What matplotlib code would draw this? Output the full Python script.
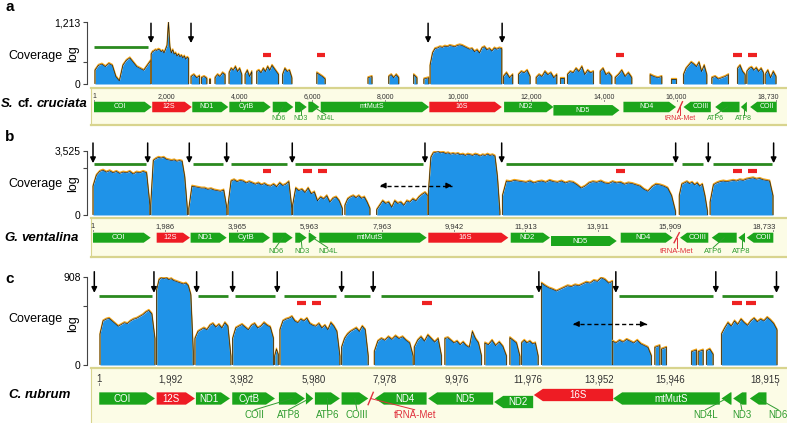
import numpy as np
import matplotlib.pyplot as plt
from matplotlib.patches import Polygon
from matplotlib import transforms

plt.rcParams['font.family'] = ['Liberation Sans', 'DejaVu Sans']

W, H = 787, 423

# ---------------- panel a : S. cf. cruciata ----------------
a_name = [("S.", "italic"), ("cf.", "normal"), ("cruciata", "italic")]
a_len = 18730
a_top = "1,213"
a_mid = 0.36
# coverage islands: (start bp, end bp, heights on the log axis, 1 = top tick)
a_cov = [
    (27, 1560, [0.22, 0.3, 0.32, 0.28, 0.33, 0.3, 0.12, 0.05, 0.3, 0.38, 0.42, 0.35, 0.28, 0.25, 0.22, 0.3, 0.38]),
    (1570, 2600, [0.48, 0.52, 0.53, 0.55, 0.54, 0.56, 0.55, 0.52, 0.54, 0.5, 0.56, 0.62, 1.0, 0.6, 0.5, 0.55,
                  0.48, 0.5, 0.45, 0.48, 0.44, 0.46, 0.42, 0.45, 0.4, 0.43, 0.41]),
    (2665, 2900, [0.12, 0.15, 0.1, 0.13]),
    (2950, 3100, [0.1, 0.12, 0.09]),
    (3150, 3200, [0.08, 0.08]),
    (3325, 3600, [0.1, 0.15, 0.12, 0.18, 0.15]),
    (3710, 4060, [0.18, 0.25, 0.22, 0.28, 0.2, 0.25, 0.15]),
    (4150, 4335, [0.15, 0.22, 0.12, 0.2]),
    (4470, 5070, [0.2, 0.22, 0.18, 0.25, 0.2, 0.28, 0.22, 0.3, 0.25, 0.2, 0.15]),
    (5180, 5435, [0.15, 0.25, 0.2, 0.22, 0.1]),
    (6120, 6350, [0.18, 0.15, 0.12, 0.08]),
    (7525, 7635, [0.1, 0.12]),
    (8095, 8370, [0.12, 0.15, 0.1, 0.15, 0.1]),
    (8780, 8870, [0.15, 0.1]),
    (9060, 9195, [0.08, 0.1]),
    (9230, 11200, [0.3, 0.5, 0.57, 0.58, 0.6, 0.59, 0.61, 0.6, 0.62, 0.61, 0.6, 0.62, 0.63, 0.62, 0.6, 0.58,
                   0.56, 0.57, 0.52, 0.55, 0.5, 0.58, 0.6, 0.55, 0.57, 0.53, 0.58, 0.56, 0.58, 0.57]),
    (11245, 11500, [0.12, 0.18, 0.1, 0.15]),
    (11656, 11977, [0.15, 0.2, 0.18, 0.22, 0.12]),
    (12142, 12710, [0.1, 0.15, 0.12, 0.2, 0.15, 0.18, 0.1, 0.15]),
    (12801, 12911, [0.1, 0.1]),
    (13002, 13717, [0.15, 0.2, 0.18, 0.25, 0.2, 0.28, 0.15, 0.22, 0.18, 0.2]),
    (13900, 14221, [0.2, 0.25, 0.15, 0.18, 0.12]),
    (14312, 14770, [0.1, 0.15, 0.22, 0.12, 0.18, 0.1]),
    (15273, 15594, [0.15, 0.12, 0.1, 0.12]),
    (15842, 15988, [0.08, 0.08]),
    (16189, 16830, [0.15, 0.25, 0.3, 0.35, 0.32, 0.28, 0.35, 0.2, 0.3, 0.15]),
    (16968, 17425, [0.1, 0.12, 0.08, 0.1, 0.12, 0.15]),
    (17673, 17883, [0.25, 0.3, 0.2, 0.15]),
    (17929, 18386, [0.2, 0.25, 0.27, 0.22, 0.26, 0.2, 0.25, 0.18]),
    (18432, 18730, [0.15, 0.22, 0.1, 0.2, 0.12]),
]
a_arrows = [1566, 2665, 9176, 11209]
a_green = [(1, 1490)]
a_red = [(4643, 4863), (6126, 6346), (14340, 14560), (17555, 17800), (17967, 18214)]
a_span = None
a_ticks = [1, 2000, 4000, 6000, 8000, 10000, 12000, 14000, 16000, 18730]
a_genes = [
    ("COI", 1, 1585, 1, "cds"), ("12S", 1600, 2685, 1, "rrna"), ("ND1", 2700, 3690, 1, "cds"),
    ("CytB", 3718, 4854, 1, "cds"), ("ND6", 4909, 5475, 1, "cds"), ("ND3", 5522, 5843, 1, "cds"),
    ("ND4L", 5887, 6190, 1, "cds"), ("mtMutS", 6228, 9203, 1, "cds"), ("16S", 9210, 11200, 1, "rrna"),
    ("ND2", 11263, 12617, 1, "cds"), ("ND5", 12617, 14430, 1, "cds"), ("ND4", 14540, 15985, 1, "cds"),
    ("tRNA-Met", 16070, 16120, 1, "trna"), ("COIII", 16190, 16940, -1, "cds"),
    ("ATP6", 17060, 17728, -1, "cds"), ("ATP8", 17765, 17930, -1, "cds"), ("COII", 18020, 18750, -1, "cds"),
]
a_lower = ["ND5"]
a_upper = []
a_out = {"ND6": -5, "ND3": 0, "ND4L": 12, "tRNA-Met": 0, "ATP6": -12, "ATP8": 0}

# ---------------- panel b : G. ventalina ----------------
b_name = [("G.", "italic"), ("ventalina", "italic")]
b_len = 18733
b_top = "3,525"
b_mid = 0.73
b_cov = [
    (1, 1570, [0.45, 0.62, 0.68, 0.7, 0.67, 0.69, 0.66, 0.68, 0.65, 0.67, 0.66, 0.68, 0.64, 0.67, 0.66, 0.68, 0.66, 0.15]),
    (1590, 2600, [0.15, 0.85, 0.88, 0.9, 0.89, 0.9, 0.87, 0.86, 0.85, 0.86, 0.84, 0.85, 0.84, 0.6, 0.1]),
    (2640, 3690, [0.1, 0.45, 0.44, 0.43, 0.42, 0.42, 0.4, 0.41, 0.39, 0.38, 0.37, 0.39, 0.1]),
    (3720, 5480, [0.15, 0.53, 0.55, 0.52, 0.54, 0.53, 0.5, 0.52, 0.5, 0.48, 0.5, 0.47, 0.49, 0.46, 0.45, 0.48,
                  0.44, 0.5, 0.46, 0.48, 0.52, 0.1]),
    (5500, 6870, [0.15, 0.42, 0.38, 0.4, 0.35, 0.42, 0.33, 0.36, 0.22, 0.28, 0.25, 0.3, 0.2, 0.26, 0.28, 0.22, 0.1]),
    (6940, 7630, [0.15, 0.25, 0.28, 0.3, 0.27, 0.3, 0.26, 0.28, 0.2, 0.1]),
    (7815, 9230, [0.08, 0.15, 0.22, 0.18, 0.2, 0.12, 0.22, 0.18, 0.2, 0.15, 0.22, 0.2, 0.25, 0.22, 0.28, 0.32, 0.35, 0.3]),
    (9240, 11210, [0.35, 0.9, 0.97, 0.98, 0.99, 0.97, 0.98, 0.96, 0.97, 0.95, 0.96, 0.95, 0.96, 0.94, 0.95, 0.93,
                   0.95, 0.94, 0.93, 0.95, 0.94, 0.92, 0.94, 0.93, 0.95, 0.93, 0.94, 0.92, 0.6, 0.05]),
    (11280, 16050, [0.3, 0.53, 0.52, 0.54, 0.53, 0.52, 0.51, 0.53, 0.5, 0.52, 0.53, 0.51, 0.54, 0.52, 0.51, 0.53,
                    0.5, 0.52, 0.51, 0.47, 0.42, 0.45, 0.5, 0.52, 0.51, 0.53, 0.5, 0.49, 0.52, 0.5, 0.51, 0.48,
                    0.5, 0.49, 0.47, 0.45, 0.4, 0.37, 0.44, 0.48, 0.47, 0.45, 0.42, 0.3, 0.05]),
    (16150, 16930, [0.3, 0.48, 0.5, 0.52, 0.49, 0.51, 0.47, 0.5, 0.45, 0.48, 0.3, 0.05]),
    (17000, 18733, [0.2, 0.47, 0.5, 0.52, 0.53, 0.52, 0.53, 0.54, 0.53, 0.55, 0.54, 0.56, 0.57, 0.58, 0.56, 0.57,
                    0.55, 0.54, 0.53, 0.3]),
]
b_arrows = [1, 1507, 2653, 3683, 5490, 9146, 11259, 16052, 16950, 18750]
b_green = [(20, 1470), (2755, 3580), (3800, 5345), (5565, 9090), (11380, 15980), (16225, 16800), (17080, 18700)]
b_red = [(4675, 4895), (5795, 6025), (6190, 6440), (14410, 14655), (17640, 17890), (18050, 18300)]
b_span = (7906, 9890)
b_ticks = [1, 1986, 3965, 5963, 7963, 9942, 11913, 13911, 15909, 18733]
b_genes = [
    ("COI", 1, 1590, 1, "cds"), ("12S", 1755, 2672, 1, "rrna"), ("ND1", 2690, 3683, 1, "cds"),
    ("CytB", 3747, 4876, 1, "cds"), ("ND6", 4950, 5500, 1, "cds"), ("ND3", 5573, 5887, 1, "cds"),
    ("ND4L", 5942, 6163, 1, "cds"), ("mtMutS", 6235, 9194, 1, "cds"), ("16S", 9238, 11442, 1, "rrna"),
    ("ND2", 11508, 12590, 1, "cds"), ("ND5", 12618, 14428, 1, "cds"), ("ND4", 14538, 15970, 1, "cds"),
    ("tRNA-Met", 16050, 16110, 1, "trna"), ("COIII", 16172, 16951, -1, "cds"),
    ("ATP6", 17045, 17733, -1, "cds"), ("ATP8", 17778, 17962, -1, "cds"), ("COII", 18009, 18742, -1, "cds"),
]
b_lower = ["ND5"]
b_upper = []
b_out = {"ND6": -7, "ND3": 1, "ND4L": 15, "tRNA-Met": 0, "ATP6": -11, "ATP8": 0}

# ---------------- panel c : C. rubrum ----------------
c_name = [("C.", "italic"), ("rubrum", "italic")]
c_len = 18915
c_top = "908"
c_mid = 0.67
c_cov = [
    (28, 1562, [0.35, 0.5, 0.52, 0.53, 0.5, 0.47, 0.44, 0.46, 0.48, 0.47, 0.5, 0.52, 0.53, 0.55, 0.57, 0.6, 0.62, 0.58, 0.3]),
    (1608, 2631, [0.85, 0.97, 0.99, 0.98, 0.99, 0.97, 0.98, 0.96, 0.95, 0.94, 0.93, 0.92, 0.93, 0.9, 0.8, 0.15]),
    (2677, 3681, [0.3, 0.38, 0.4, 0.42, 0.4, 0.45, 0.47, 0.43, 0.46, 0.42, 0.48, 0.44, 0.1]),
    (3728, 4870, [0.3, 0.42, 0.44, 0.46, 0.43, 0.4, 0.45, 0.47, 0.42, 0.44, 0.48, 0.45, 0.43, 0.3]),
    (4900, 5002, [0.1, 0.18, 0.12]),
    (5048, 6722, [0.4, 0.5, 0.52, 0.53, 0.55, 0.5, 0.48, 0.52, 0.5, 0.53, 0.47, 0.45, 0.44, 0.47, 0.42, 0.45,
                  0.4, 0.48, 0.44, 0.38, 0.1]),
    (6768, 7512, [0.2, 0.3, 0.35, 0.38, 0.4, 0.42, 0.38, 0.44, 0.4, 0.1]),
    (7680, 8767, [0.15, 0.27, 0.3, 0.28, 0.32, 0.29, 0.33, 0.3, 0.32, 0.28, 0.25, 0.1]),
    (8795, 9557, [0.2, 0.28, 0.32, 0.27, 0.34, 0.3, 0.26, 0.3, 0.1]),
    (9650, 10673, [0.3, 0.31, 0.28, 0.25, 0.27, 0.23, 0.26, 0.22, 0.2, 0.38, 0.3, 0.25, 0.1]),
    (10765, 11370, [0.25, 0.23, 0.28, 0.22, 0.26, 0.21, 0.1]),
    (11463, 11742, [0.31, 0.28, 0.25, 0.1]),
    (11788, 12253, [0.25, 0.28, 0.25, 0.27, 0.24, 0.25, 0.1]),
    (12346, 14326, [0.93, 0.9, 0.875, 0.86, 0.84, 0.86, 0.88, 0.9, 0.89, 0.91, 0.9, 0.92, 0.94, 0.93, 0.96,
                    0.95, 0.99, 0.97, 0.93, 0.95]),
    (14326, 15414, [0.27, 0.25, 0.28, 0.26, 0.29, 0.27, 0.25, 0.28, 0.24, 0.22, 0.2, 0.1]),
    (15507, 15647, [0.2, 0.22]),
    (15693, 15832, [0.18, 0.2]),
    (16530, 16669, [0.15, 0.17]),
    (16716, 16855, [0.15, 0.17]),
    (16948, 17134, [0.16, 0.18, 0.12]),
    (17366, 18915, [0.35, 0.42, 0.48, 0.44, 0.5, 0.46, 0.52, 0.48, 0.45, 0.5, 0.53, 0.49, 0.52, 0.5, 0.54,
                    0.51, 0.47, 0.4]),
]
c_arrows = [-130, 1534, 2725, 3729, 4973, 6769, 7650, 12272, 14419, 17208, 18901]
c_green = [(1, 1470), (2752, 3606), (3793, 4909), (5168, 6602), (6842, 7558), (7857, 12095),
           (14512, 17133), (17367, 18806)]
c_red = [(5531, 5773), (5932, 6192), (9018, 9279), (17647, 17926), (18064, 18323)]
c_span = (13228, 15276)
c_ticks = [1, 1992, 3982, 5980, 7978, 9976, 11976, 13952, 15946, 18915]
c_genes = [
    ("COI", 8, 1562, 1, "cds"), ("12S", 1609, 2677, 1, "rrna"), ("ND1", 2705, 3654, 1, "cds"),
    ("CytB", 3718, 4909, 1, "cds"), ("COII", 5020, 5745, 1, "cds"), ("ATP8", 5773, 5977, 1, "cds"),
    ("ATP6", 6024, 6721, 1, "cds"), ("COIII", 6768, 7512, 1, "cds"), ("tRNA-Met", 7550, 7610, 1, "trna"),
    ("ND4", 7698, 9140, -1, "cds"), ("ND5", 9184, 10997, -1, "cds"), ("ND2", 11025, 12113, -1, "cds"),
    ("16S", 12132, 14344, -1, "rrna"), ("mtMutS", 14344, 17320, -1, "cds"),
    ("ND4L", 17367, 17646, -1, "cds"), ("ND3", 17692, 18064, -1, "cds"), ("ND6", 18157, 18622, -1, "cds"),
]
c_lower = ["ND2"]
c_upper = ["16S"]
c_out = {"COII": -37, "ATP8": -21, "ATP6": 0, "COIII": 2, "tRNA-Met": 44, "ND4L": -21, "ND3": 2, "ND6": 20}

# ---------------- layout (pixels) ----------------
lay_a = dict(letter="a", letter_y=7, px0=94, px1=776, cov_top=22, cov_bot=84, box_top=88, box_bot=125,
             arrow=(0.98, 0.66), green=0.6, red=0.47, span_y=None, tick_y=8.7, gene_y=19, gene_h=10.5,
             row=3.3, sub_y=30.5, head=7, fs_tick=5, fs_gene=5, fs_sub=5, name_x=1, name_y=104,
             cov_y=56, log_y=54)
lay_b = dict(letter="b", letter_y=137, px0=93, px1=773, cov_top=151, cov_bot=215, box_top=218, box_bot=257,
             arrow=(1.125, 0.81), green=0.8, red=0.69, span_y=0.46, tick_y=8.7, gene_y=19.7, gene_h=10,
             row=3.3, sub_y=33.7, head=7, fs_tick=5.5, fs_gene=5.5, fs_sub=5.5, name_x=4, name_y=238,
             cov_y=184, log_y=183.5)
lay_c = dict(letter="c", letter_y=279, px0=99, px1=777, cov_top=277, cov_bot=365, box_top=368, box_bot=426,
             arrow=(1.06, 0.82), green=0.78, red=0.70, span_y=0.466, tick_y=11.3, gene_y=30.5, gene_h=12.3,
             row=3.5, sub_y=47, head=9, fs_tick=7, fs_gene=7, fs_sub=7, name_x=8, name_y=395,
             cov_y=319, log_y=323.5)

BLUE = '#1f93e8'
ORANGE = '#f2a516'
GENE_COL = {"cds": '#1ba51b', "rrna": '#ee1c24', "trna": '#e0303c'}
LINE_GREEN = '#2a8a1e'
MARK_RED = '#ee2222'
BOX = '#fcfce6'
BOX_EDGE = '#d8d48e'
SUB_GREEN = '#2f9c2f'

fig = plt.figure(figsize=(W / 100, H / 100), dpi=100)


def ftext(x, y, s, **kw):
    return fig.text(x / W, 1 - y / H, s, **kw)


def draw_panel(name, length, top_lbl, mid, cov, arrows, green, red, span, ticks, genes,
               lower, upper, out, L):
    scale = (L['px1'] - L['px0']) / (length - 1)
    xl = (1 - (L['px0'] - 91) / scale, 1 + (787 - L['px0']) / scale)

    # coverage track
    ax = fig.add_axes([91 / W, 1 - L['cov_bot'] / H, 696 / W, (L['cov_bot'] - L['cov_top']) / H])
    ax.set_xlim(xl)
    ax.set_ylim(0, 1)
    ax.patch.set_alpha(0)
    for s in ('top', 'right', 'bottom'):
        ax.spines[s].set_visible(False)
    ax.spines['left'].set_position(('outward', 3))
    ax.spines['left'].set_color('#444')
    ax.spines['left'].set_linewidth(0.8)
    ax.set_xticks([])
    ax.set_yticks([0, mid, 1])
    ax.set_yticklabels(['0', '', top_lbl])
    ax.tick_params(axis='y', length=3, width=0.8, color='#444', labelsize=7.5, pad=1.5)

    up = transforms.offset_copy(ax.transData, fig=fig, y=0.7, units='points')
    for s, e, vals in cov:
        xs = np.concatenate([[s], np.linspace(s, e, len(vals)), [e]])
        ys = np.concatenate([[0], vals, [0]])
        ax.fill_between(xs, 0, ys, color=BLUE, lw=0)
        ax.plot(xs, ys, color=ORANGE, lw=0.9, transform=up)
        ax.plot(xs, ys, color='#1b1b1b', lw=0.5)

    for x in arrows:
        ax.annotate('', xy=(x, L['arrow'][1]), xytext=(x, L['arrow'][0]),
                    arrowprops=dict(arrowstyle='-|>', color='k', lw=1.1, mutation_scale=8,
                                    shrinkA=0, shrinkB=0), annotation_clip=False)
    ax.hlines([L['green']] * len(green), [g[0] for g in green], [g[1] for g in green],
              colors=LINE_GREEN, lw=2, clip_on=False)
    ax.hlines([L['red']] * len(red), [r[0] for r in red], [r[1] for r in red],
              colors=MARK_RED, lw=3, clip_on=False)
    if span is not None:
        y = L['span_y']
        ax.plot(span, [y, y], color='k', lw=1, dashes=(3, 2))
        for tip, d in ((span[0], 1), (span[1], -1)):
            ax.annotate('', xy=(tip, y), xytext=(tip + d * 5 / scale, y),
                        arrowprops=dict(arrowstyle='-|>', color='k', lw=1, mutation_scale=8,
                                        shrinkA=0, shrinkB=0))

    ftext(10, L['letter_y'], L['letter'], fontsize=11, weight='bold', ha='center', va='center')
    ftext(35, L['cov_y'], 'Coverage', fontsize=9, ha='center', va='center')
    ftext(73, L['log_y'], 'log', fontsize=9, rotation=90, ha='center', va='center')

    # gene map
    mx = fig.add_axes([91 / W, 1 - L['box_bot'] / H, 696 / W, (L['box_bot'] - L['box_top']) / H])
    mx.set_xlim(xl)
    mx.set_ylim(L['box_bot'] - L['box_top'], 0)
    mx.set_facecolor(BOX)
    mx.set_xticks([])
    mx.set_yticks([])
    for s in mx.spines.values():
        s.set_color(BOX_EDGE)
    mx.spines['top'].set_linewidth(1.6)
    mx.spines['bottom'].set_linewidth(1.6)
    mx.spines['left'].set_linewidth(0.8)
    mx.spines['right'].set_visible(False)

    for i, v in enumerate(ticks):
        if i == len(ticks) - 1:
            mx.text(v + 3 / scale, L['tick_y'], f'{v:,}', fontsize=L['fs_tick'], ha='right', va='center', color='#333')
        else:
            mx.text(v, L['tick_y'], f'{v:,}', fontsize=L['fs_tick'], ha='center', va='center', color='#333')
        ty = L['tick_y'] + L['fs_tick'] * 0.6
        mx.plot([v, v], [ty, ty + 1.5], color='#777', lw=0.6)

    h = L['gene_h']
    for gname, s, e, strand, kind in genes:
        yc = L['gene_y']
        if gname in lower:
            yc += L['row']
        if gname in upper:
            yc -= L['row']
        col = GENE_COL[kind]
        if kind == 'trna':
            d = 1.5 / scale
            mx.plot([s - d, e + d], [yc + h / 2, yc - h / 2], color=col, lw=1)
            cx = (s + e) / 2
        else:
            hl = min(L['head'] / scale, e - s)
            y0, y1 = yc - h / 2, yc + h / 2
            if strand > 0:
                pts = [(s, y0), (e - hl, y0), (e, yc), (e - hl, y1), (s, y1)]
                cx = (s + e - hl) / 2
            else:
                pts = [(e, y0), (s + hl, y0), (s, yc), (s + hl, y1), (e, y1)]
                cx = (s + hl + e) / 2
            mx.add_patch(Polygon(pts, closed=True, fc=col, ec='none'))
        if gname in out:
            lc = GENE_COL['trna'] if kind == 'trna' else SUB_GREEN
            gx = (s + e) / 2
            lx = gx + out[gname] / scale
            mx.plot([gx, lx], [yc, L['sub_y'] - L['fs_sub'] * 0.75], color=lc, lw=0.7)
            mx.text(lx, L['sub_y'], gname, fontsize=L['fs_sub'], ha='center', va='center', color=lc)
        else:
            mx.text(cx, yc, gname, fontsize=L['fs_gene'], ha='center', va='center', color='white')

    # species name, pieces chained left to right
    prev = ftext(L['name_x'], L['name_y'], name[0][0], fontsize=9.5, weight='bold',
                 style=name[0][1], ha='left', va='center')
    for word, st in name[1:]:
        prev = mx.annotate(word, xy=(1, 0), xycoords=prev, xytext=(2.8, 0), textcoords='offset points',
                           fontsize=9.5, weight='bold', style=st, ha='left', va='bottom',
                           annotation_clip=False)


draw_panel(a_name, a_len, a_top, a_mid, a_cov, a_arrows, a_green, a_red, a_span, a_ticks,
           a_genes, a_lower, a_upper, a_out, lay_a)
draw_panel(b_name, b_len, b_top, b_mid, b_cov, b_arrows, b_green, b_red, b_span, b_ticks,
           b_genes, b_lower, b_upper, b_out, lay_b)
draw_panel(c_name, c_len, c_top, c_mid, c_cov, c_arrows, c_green, c_red, c_span, c_ticks,
           c_genes, c_lower, c_upper, c_out, lay_c)

fig.savefig('out.png', dpi=100)
